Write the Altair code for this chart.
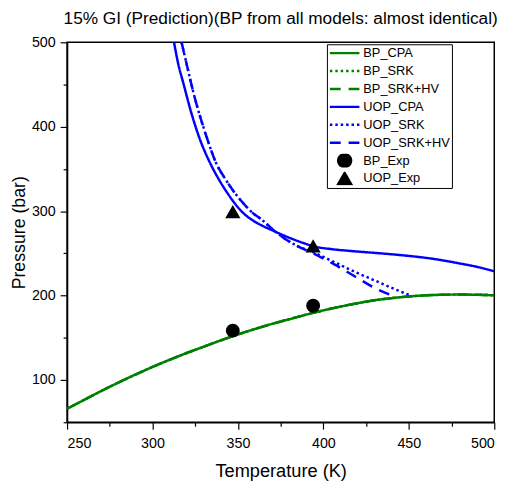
import altair as alt
import pandas as pd

FONT = "Liberation Sans"

# ---- data ----
bp_T = [250, 260, 270, 280, 290, 300, 310, 320, 330, 340, 350, 360, 370, 380, 390,
        400, 410, 420, 430, 440, 450, 460, 470, 480, 490, 500]
bp_P = [66, 76.5, 87, 97, 106.5, 115.5, 124, 132, 139.5, 147, 154, 160.5, 166.5, 172, 177.5,
        182.5, 187, 191, 194.5, 197, 199, 200.3, 201, 201.2, 201, 200.3]

uop_cpa_T = [312.6, 315, 318, 322.5, 327.4, 333, 339.3, 344, 348.6, 353, 358, 364, 370,
             376, 382, 388, 395, 405, 415, 430, 445, 464, 480, 490, 500]
uop_cpa_P = [500, 475, 452, 418, 387, 360, 336, 321, 308, 298, 290, 283, 277.4,
             272, 267, 262.5, 258, 255, 253, 250.6, 248, 243.6, 238, 234, 228.8]

uop_srk_T = [317, 320, 324, 331.8, 337, 343.3, 348, 352, 358, 364.5, 370, 376, 383.5,
             395, 405, 418, 430, 442, 452]
uop_srk_P = [500, 474, 440, 387, 358, 336, 322, 312, 299, 289, 279, 269.5, 260,
             250.6, 241, 228.5, 218, 207.5, 199.3]

uop_srkhv_T = [317, 320, 324, 331.8, 337, 343.3, 348, 352, 358, 364.5, 370, 376, 383.5,
               395, 406.7, 419, 432, 443]
uop_srkhv_P = [500, 474, 440, 387, 358, 336, 322, 312, 299, 289, 279, 269.5, 260,
               249, 236.6, 222, 207, 198]

exp_series = ["BP_Exp", "BP_Exp", "UOP_Exp", "UOP_Exp"]
exp_T = [347, 394, 347, 394]
exp_P = [158.5, 188, 299.5, 259]

series_domain = ["BP_CPA", "BP_SRK", "BP_SRK+HV", "UOP_CPA", "UOP_SRK", "UOP_SRK+HV",
                 "BP_Exp", "UOP_Exp"]
color_range = ["#008000", "#008000", "#008000", "#0000ff", "#0000ff", "#0000ff",
               "black", "black"]
dash_range = [[1, 0], [2.5, 3], [11, 8], [1, 0], [2.5, 3], [11, 8], [1, 0], [1, 0]]
LINE_SYMBOL = "M-2.3,0H2.3"
shape_range = [LINE_SYMBOL] * 6 + ["circle", "triangle-up"]

# ---- build tables ----
rows = []
for name, T, P in [("BP_SRK", bp_T, bp_P), ("BP_SRK+HV", bp_T, bp_P),
                   ("UOP_SRK", uop_srk_T, uop_srk_P), ("UOP_SRK+HV", uop_srkhv_T, uop_srkhv_P),
                   ("BP_CPA", bp_T, bp_P), ("UOP_CPA", uop_cpa_T, uop_cpa_P)]:
    for i, (t, p) in enumerate(zip(T, P)):
        rows.append({"series": name, "T": t, "P": p, "idx": i})
lines_df = pd.DataFrame(rows)
pts_df = pd.DataFrame({"series": exp_series, "T": exp_T, "P": exp_P})

leg = alt.Legend(
    title=None, orient="none", legendX=264, legendY=2,
    strokeColor="black", fillColor="white", padding=2,
    labelFont=FONT, labelFontSize=13, labelColor="black", labelOffset=11,
    symbolSize=170, symbolOffset=8, symbolStrokeWidth=2.5,
    clipHeight=14, rowPadding=4.2, symbolOpacity=1,
)

color_scale = alt.Scale(domain=series_domain, range=color_range)
dash_scale = alt.Scale(domain=series_domain, range=dash_range)
shape_scale = alt.Scale(domain=series_domain, range=shape_range)

x_enc = alt.X("T:Q", scale=alt.Scale(domain=[250, 500], nice=False),
              axis=alt.Axis(values=list(range(250, 501, 25)),
                            labelExpr="datum.value % 50 === 0 ? datum.label : ''",
                            tickSize={"condition": {"test": "datum.value % 50 === 0", "value": 7}, "value": 4},
                            title="Temperature (K)", grid=False,
                            labelPadding=8, titlePadding=12, titleFontSize=18.5))
y_enc = alt.Y("P:Q", scale=alt.Scale(domain=[50, 500], nice=False),
              axis=alt.Axis(values=list(range(50, 501, 50)),
                            labelExpr="datum.value % 100 === 0 ? datum.label : ''",
                            tickSize={"condition": {"test": "datum.value % 100 === 0", "value": 7}, "value": 4},
                            title="Pressure (bar)", grid=False,
                            labelPadding=5, titlePadding=3))

lines = alt.Chart(lines_df).mark_line(strokeWidth=2.5, clip=True, interpolate="monotone").encode(
    x=x_enc, y=y_enc,
    color=alt.Color("series:N", scale=color_scale, legend=leg),
    strokeDash=alt.StrokeDash("series:N", scale=dash_scale, legend=leg),
    order=alt.Order("idx:Q"),
)

points = alt.Chart(pts_df).mark_point(filled=True, opacity=1).encode(
    x="T:Q", y="P:Q",
    color=alt.Color("series:N", scale=color_scale, legend=leg),
    shape=alt.Shape("series:N", scale=shape_scale, legend=leg),
    size=alt.condition("datum.series == 'BP_Exp'", alt.value(200), alt.value(240)),
)

chart = alt.layer(lines, points).properties(
    width=434, height=386,
    title=alt.Title("15% GI (Prediction)(BP from all models: almost identical)",
                    font=FONT, fontSize=17.5, fontWeight="normal", color="black",
                    anchor="middle", offset=7),
    autosize=alt.AutoSizeParams(type="none"),
    padding={"left": 60, "top": 31, "right": 17, "bottom": 66},
).configure_view(stroke="black", strokeWidth=1.5).configure_axis(
    domainColor="black", domainWidth=1.5, tickColor="black", tickWidth=1.2,
    labelFont=FONT, labelFontSize=14.5, labelColor="black",
    titleFont=FONT, titleFontSize=18, titleFontWeight="normal", titleColor="black",
)

chart.save("out.html", embed_options={"renderer": "svg", "actions": False})
